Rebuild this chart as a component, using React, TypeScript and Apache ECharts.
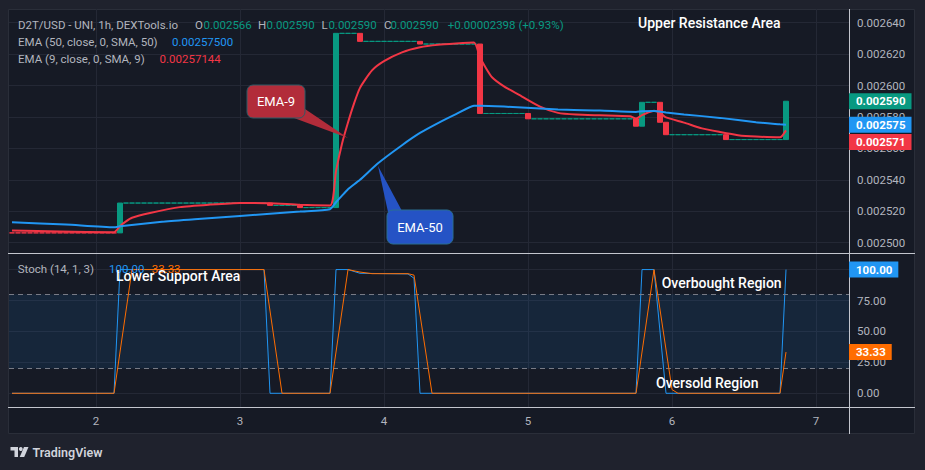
import React, { useEffect, useRef } from "react";
import * as echarts from "echarts";

const FONT = 'Roboto, "Noto Sans", sans-serif';
const TEAL = "#089981";
const RED = "#f23645";
const BLUE = "#2196f3";
const ORANGE = "#ff6d00";
const AXIS_TEXT = "#b2b5be";
const LEGEND_TEXT = "#b2b5be";
const GRID = "#242835";
const PANEL = "#161a25";
const OUTER = "#1f222d";
const SEP = "#c3c6ce";

// ---- time axis (hourly candles) ----
const startDay = 1;
const startHour = 10;
const hourCount = 140;
const categories: string[] = [];
for (let i = 0; i < hourCount; i++) {
  const t = startHour + i;
  categories.push(`${startDay + Math.floor(t / 24)} ${String(t % 24).padStart(2, "0")}:00`);
}
const isDayStart = (v: string) => v.endsWith(" 00:00");
const dayOf = (v: string) => v.split(" ")[0];

// ---- candles ----
const opens = [
  0.0025062, 0.0025062, 0.0025062, 0.0025062, 0.0025062, 0.0025062, 0.0025062, 0.0025062, 0.0025062, 0.0025062,
  0.0025062, 0.0025062, 0.0025062, 0.0025062, 0.0025062, 0.0025062, 0.0025062, 0.0025062, 0.0025062,
  0.0025252, 0.0025252, 0.0025252, 0.0025252, 0.0025252, 0.0025252, 0.0025252, 0.0025252, 0.0025252, 0.0025252,
  0.0025252, 0.0025252, 0.0025252, 0.0025252, 0.0025252, 0.0025252, 0.0025252, 0.0025252, 0.0025252, 0.0025252,
  0.0025252, 0.0025252, 0.0025252, 0.0025252, 0.0025252,
  0.0025237, 0.0025237, 0.0025237, 0.0025237, 0.0025237,
  0.0025223, 0.0025223, 0.0025223, 0.0025223, 0.0025223, 0.0025223,
  0.0026332, 0.0026332, 0.0026332, 0.0026332,
  0.0026281, 0.0026281, 0.0026281, 0.0026281, 0.0026281, 0.0026281, 0.0026281, 0.0026281, 0.0026281, 0.0026281,
  0.0026264, 0.0026264, 0.0026264, 0.0026264, 0.0026264, 0.0026264, 0.0026264, 0.0026264, 0.0026264, 0.0026264,
  0.0025822, 0.0025822, 0.0025822, 0.0025822, 0.0025822, 0.0025822, 0.0025822, 0.0025822,
  0.0025788, 0.0025788, 0.0025788, 0.0025788, 0.0025788, 0.0025788, 0.0025788, 0.0025788, 0.0025788, 0.0025788,
  0.0025788, 0.0025788, 0.0025788, 0.0025788, 0.0025788, 0.0025788, 0.0025788, 0.0025788,
  0.0025741,
  0.0025893, 0.0025893, 0.0025893,
  0.0025766,
  0.0025687, 0.0025687, 0.0025687, 0.0025687, 0.0025687, 0.0025687, 0.0025687, 0.0025687, 0.0025687, 0.0025687,
  0.0025656, 0.0025656, 0.0025656, 0.0025656, 0.0025656, 0.0025656, 0.0025656, 0.0025656, 0.0025656, 0.0025656,
];

const closes = [
  0.0025062, 0.0025062, 0.0025062, 0.0025062, 0.0025062, 0.0025062, 0.0025062, 0.0025062, 0.0025062, 0.0025062,
  0.0025062, 0.0025062, 0.0025062, 0.0025062, 0.0025062, 0.0025062, 0.0025062, 0.0025062,
  0.0025252, 0.0025252, 0.0025252, 0.0025252, 0.0025252, 0.0025252, 0.0025252, 0.0025252, 0.0025252, 0.0025252,
  0.0025252, 0.0025252, 0.0025252, 0.0025252, 0.0025252, 0.0025252, 0.0025252, 0.0025252, 0.0025252, 0.0025252,
  0.0025252, 0.0025252, 0.0025252, 0.0025252, 0.0025252,
  0.0025237, 0.0025237, 0.0025237, 0.0025237, 0.0025237,
  0.0025223, 0.0025223, 0.0025223, 0.0025223, 0.0025223, 0.0025223,
  0.0026332, 0.0026332, 0.0026332, 0.0026332,
  0.0026281, 0.0026281, 0.0026281, 0.0026281, 0.0026281, 0.0026281, 0.0026281, 0.0026281, 0.0026281, 0.0026281,
  0.0026264, 0.0026264, 0.0026264, 0.0026264, 0.0026264, 0.0026264, 0.0026264, 0.0026264, 0.0026264, 0.0026264,
  0.0025822, 0.0025822, 0.0025822, 0.0025822, 0.0025822, 0.0025822, 0.0025822, 0.0025822,
  0.0025788, 0.0025788, 0.0025788, 0.0025788, 0.0025788, 0.0025788, 0.0025788, 0.0025788, 0.0025788, 0.0025788,
  0.0025788, 0.0025788, 0.0025788, 0.0025788, 0.0025788, 0.0025788, 0.0025788, 0.0025788,
  0.0025741,
  0.0025893, 0.0025893, 0.0025893,
  0.0025766,
  0.0025687, 0.0025687, 0.0025687, 0.0025687, 0.0025687, 0.0025687, 0.0025687, 0.0025687, 0.0025687, 0.0025687,
  0.0025656, 0.0025656, 0.0025656, 0.0025656, 0.0025656, 0.0025656, 0.0025656, 0.0025656, 0.0025656, 0.0025656,
  0.00259,
];

// the first flat candles were drawn in the bearish colour
const leadingBearishFlats = 18;

// ---- EMA lines: [candle index, value] ----
const ema9Points: [number, number][] = [
  [0, 0.0025077], [8, 0.0025071], [17, 0.0025066], [18, 0.0025105], [19, 0.0025135], [20, 0.0025158],
  [23, 0.0025188], [28, 0.0025226], [33, 0.0025242], [38, 0.0025253], [43, 0.0025251], [48, 0.0025241],
  [53, 0.0025236], [54, 0.0025455], [55, 0.002563], [56, 0.0025765], [57, 0.0025885], [58, 0.0025985],
  [60, 0.0026096], [62, 0.0026155], [65, 0.0026211], [68, 0.0026243], [71, 0.0026259], [74, 0.0026267],
  [77, 0.0026273], [78, 0.002618], [79, 0.002611], [80, 0.0026053], [82, 0.0025995], [85, 0.002593],
  [88, 0.0025866], [91, 0.0025826], [94, 0.0025815], [98, 0.002581], [103, 0.0025804], [104, 0.002579],
  [105, 0.0025811], [106, 0.0025828], [107, 0.002584], [108, 0.0025825], [109, 0.0025797], [112, 0.0025764],
  [115, 0.0025727], [118, 0.0025704], [121, 0.0025684], [124, 0.0025675], [128, 0.002567], [129, 0.00257144],
];

const ema50Points: [number, number][] = [
  [0, 0.0025129], [9, 0.0025115], [17, 0.0025098], [18, 0.0025104], [25, 0.0025133], [31, 0.002515],
  [38, 0.002517], [48, 0.0025198], [53, 0.0025213], [54, 0.0025257], [55, 0.0025299], [56, 0.002534],
  [58, 0.00254], [61, 0.0025505], [65, 0.002562], [68, 0.0025698], [71, 0.0025761], [74, 0.0025818],
  [77, 0.0025871], [78, 0.0025872], [82, 0.0025866], [91, 0.0025847], [98, 0.0025841], [104, 0.0025832],
  [105, 0.0025836], [107, 0.0025838], [109, 0.0025828], [112, 0.0025816], [118, 0.0025794], [124, 0.0025766],
  [128, 0.0025753], [129, 0.002575],
];

// ---- Stochastic (14, 1, 3) ----
const stochK: [number, number][] = [
  [0, 0], [17, 0], [18, 100], [42, 100], [43, 0], [53, 0], [54, 100], [56, 100], [58, 97], [66, 96.5],
  [67, 93], [68, 0], [104, 0], [105, 100], [107, 100], [109, 0], [128, 0], [129, 100],
];
const stochD: [number, number][] = [
  [0, 0], [17, 0], [20, 100], [42, 100], [45, 0], [53, 0], [56, 100], [58, 98], [60, 96.7], [66, 96.7],
  [67, 95.5], [70, 0], [104, 0], [107, 100], [110, 3], [111, 0], [128, 0], [129, 33.33],
];

// ---- axes ----
const priceTicks = [0.0025, 0.00252, 0.00254, 0.00256, 0.00258, 0.0026, 0.00262, 0.00264];
const stochTicks = [0, 25, 50, 75, 100];
const priceMin = 0.0024934;
const priceMax = 0.0026487;
const stochMin = -11.08;
const stochMax = 113.4;
const overbought = 80;
const oversold = 20;

// ---- legend texts ----
const symbolTitle = "D2T/USD - UNI, 1h, DEXTools.io";
const ohlcText = ["0.002566", "0.002590", "0.002590", "0.002590"];
const changeText = "+0.00002398 (+0.93%)";
const ema50Title = "EMA (50, close, 0, SMA, 50)";
const ema50Value = "0.00257500";
const ema9Title = "EMA (9, close, 0, SMA, 9)";
const ema9Value = "0.00257144";
const stochTitle = "Stoch (14, 1, 3)";
const stochKValue = "100.00";
const stochDValue = "33.33";

const txt = (
  text: string,
  x: number,
  y: number,
  fill: string,
  size = 11.5,
  weight: any = "normal",
  align = "left",
  z = 60
) => ({
  type: "text",
  z,
  x,
  y,
  silent: true,
  style: { text, fill, fontSize: size, fontFamily: FONT, fontWeight: weight, align, verticalAlign: "middle" },
});

function buildOption() {
  const candleData = opens.map((o, i) => {
    const c = closes[i];
    const value = [o, c, Math.min(o, c), Math.max(o, c)];
    if (i < leadingBearishFlats) {
      return {
        value,
        itemStyle: { color: RED, color0: RED, borderColor: RED, borderColor0: RED, borderColorDoji: RED },
      };
    }
    return value;
  });

  const xAxisFor = (gridIndex: number, showLabels: boolean) => ({
    type: "category",
    gridIndex,
    data: categories,
    boundaryGap: true,
    axisLine: { show: false },
    axisTick: { show: false, alignWithLabel: true },
    axisLabel: {
      show: showLabels,
      interval: (_i: number, v: string) => isDayStart(v),
      formatter: (v: string) => dayOf(v),
      color: AXIS_TEXT,
      fontSize: 11.5,
      fontFamily: FONT,
      margin: 8,
    },
    splitLine: {
      show: true,
      interval: (_i: number, v: string) => isDayStart(v),
      alignWithLabel: true,
      lineStyle: { color: GRID, width: 1 },
    },
  });

  return {
    animation: false,
    backgroundColor: OUTER,
    grid: [
      { left: 9, right: 76, top: 9, height: 244, show: false, outerBoundsMode: "none" },
      { left: 9, right: 76, top: 253, height: 154, show: false, outerBoundsMode: "none" },
    ],
    xAxis: [xAxisFor(0, false), xAxisFor(1, true)],
    yAxis: [
      {
        type: "value",
        gridIndex: 0,
        position: "right",
        min: priceMin,
        max: priceMax,
        scale: true,
        axisLine: { show: false },
        axisTick: { show: false, customValues: priceTicks },
        axisLabel: {
          customValues: priceTicks,
          formatter: (v: number) => v.toFixed(6),
          color: AXIS_TEXT,
          fontSize: 11.5,
          fontFamily: FONT,
          margin: 8,
          showMinLabel: true,
          showMaxLabel: true,
        },
        splitLine: { show: true, lineStyle: { color: GRID, width: 1 } },
      },
      {
        type: "value",
        gridIndex: 1,
        position: "right",
        min: stochMin,
        max: stochMax,
        axisLine: { show: false },
        axisTick: { show: false, customValues: stochTicks },
        axisLabel: {
          customValues: stochTicks,
          formatter: (v: number) => v.toFixed(2),
          color: AXIS_TEXT,
          fontSize: 11.5,
          fontFamily: FONT,
          margin: 8,
        },
        splitLine: { show: true, lineStyle: { color: GRID, width: 1 } },
      },
    ],
    series: [
      {
        type: "candlestick",
        xAxisIndex: 0,
        yAxisIndex: 0,
        barWidth: 5,
        data: candleData,
        itemStyle: {
          color: TEAL,
          color0: RED,
          borderColor: TEAL,
          borderColor0: RED,
          borderWidth: 1,
        },
        markLine: {
          silent: true,
          symbol: "none",
          label: { show: false },
          lineStyle: { color: TEAL, type: [1, 2], width: 1 },
          data: [{ yAxis: closes[closes.length - 1] }],
        },
        z: 3,
      },
      {
        type: "line",
        name: "EMA 9",
        xAxisIndex: 0,
        yAxisIndex: 0,
        data: ema9Points,
        showSymbol: false,
        symbol: "none",
        smooth: 0.2,
        lineStyle: { color: RED, width: 2 },
        z: 4,
      },
      {
        type: "line",
        name: "EMA 50",
        xAxisIndex: 0,
        yAxisIndex: 0,
        data: ema50Points,
        showSymbol: false,
        symbol: "none",
        smooth: 0.2,
        lineStyle: { color: BLUE, width: 2 },
        z: 4,
      },
      {
        type: "line",
        name: "%K",
        xAxisIndex: 1,
        yAxisIndex: 1,
        data: stochK,
        showSymbol: false,
        symbol: "none",
        lineStyle: { color: BLUE, width: 1 },
        markArea: {
          silent: true,
          itemStyle: { color: "rgba(33,150,243,0.1)" },
          data: [[{ yAxis: oversold }, { yAxis: overbought }]],
        },
        markLine: {
          silent: true,
          symbol: "none",
          label: { show: false },
          lineStyle: { color: "#787b86", type: [5, 4], width: 1 },
          data: [{ yAxis: overbought }, { yAxis: oversold }],
        },
        z: 4,
      },
      {
        type: "line",
        name: "%D",
        xAxisIndex: 1,
        yAxisIndex: 1,
        data: stochD,
        showSymbol: false,
        symbol: "none",
        lineStyle: { color: ORANGE, width: 1 },
        z: 5,
      },
    ],
  };
}

function staticGraphics() {
  const logoFill = "#d1d4dc";
  return [
    {
      type: "rect",
      z: -100,
      silent: true,
      shape: { x: 8.5, y: 9.5, width: 906, height: 424 },
      style: { fill: PANEL, stroke: "#2a2e39", lineWidth: 1 },
    },
    { type: "line", z: 50, silent: true, shape: { x1: 8, y1: 253.5, x2: 915, y2: 253.5 }, style: { stroke: SEP, lineWidth: 1 } },
    { type: "line", z: 50, silent: true, shape: { x1: 849.5, y1: 9, x2: 849.5, y2: 434 }, style: { stroke: SEP, lineWidth: 1 } },
    { type: "line", z: 50, silent: true, shape: { x1: 8, y1: 407.5, x2: 915, y2: 407.5 }, style: { stroke: SEP, lineWidth: 1 } },

    // legend
    txt(symbolTitle, 18, 25, LEGEND_TEXT),
    txt("O", 195, 25, LEGEND_TEXT),
    txt(ohlcText[0], 203.5, 25, TEAL),
    txt("H", 258, 25, LEGEND_TEXT),
    txt(ohlcText[1], 266.5, 25, TEAL),
    txt("L", 321.5, 25, LEGEND_TEXT),
    txt(ohlcText[2], 328.4, 25, TEAL),
    txt("C", 384, 25, LEGEND_TEXT),
    txt(ohlcText[3], 390.4, 25, TEAL),
    txt(changeText, 447.8, 25, TEAL),
    txt(ema50Title, 18, 42, LEGEND_TEXT),
    txt(ema50Value, 172, 42, BLUE),
    txt(ema9Title, 18, 59, LEGEND_TEXT),
    txt(ema9Value, 159.6, 59, RED),
    txt(stochTitle, 17.7, 269, LEGEND_TEXT),
    txt(stochKValue, 109, 269, BLUE),
    txt(stochDValue, 151.7, 269, ORANGE),

    // annotations
    txt("Upper Resistance Area", 638, 23, "#ffffff", 14, 500),
    txt("Lower Support Area", 116, 275.5, "#ffffff", 14, 500),
    txt("Overbought Region", 661.7, 283.3, "#ffffff", 14, 500),
    txt("Oversold Region", 656, 383.3, "#ffffff", 14, 500),

    // EMA-9 callout
    {
      type: "polygon",
      z: 70,
      silent: true,
      shape: { points: [[294, 118], [305, 109], [348, 138]] },
      style: { fill: "#b22c3a" },
    },
    {
      type: "rect",
      z: 71,
      silent: true,
      shape: { x: 247, y: 85, width: 58, height: 33, r: 6 },
      style: { fill: "#b22c3a", stroke: "#2f5b66", lineWidth: 1 },
    },
    txt("EMA-9", 276, 101.5, "#ffffff", 13, "normal", "center", 72),

    // EMA-50 callout
    {
      type: "polygon",
      z: 70,
      silent: true,
      shape: { points: [[378, 166], [388, 212], [402, 211]] },
      style: { fill: "#2553c5" },
    },
    {
      type: "rect",
      z: 71,
      silent: true,
      shape: { x: 387, y: 210, width: 66, height: 34, r: 6 },
      style: { fill: "#2553c5", stroke: "#2a6f92", lineWidth: 1 },
    },
    txt("EMA-50", 420, 227, "#ffffff", 13, "normal", "center", 72),

    // TradingView logo
    { type: "rect", z: 60, silent: true, shape: { x: 10.5, y: 447, width: 7.5, height: 3.5 }, style: { fill: logoFill } },
    { type: "rect", z: 60, silent: true, shape: { x: 14.5, y: 447, width: 3.5, height: 10 }, style: { fill: logoFill } },
    { type: "circle", z: 60, silent: true, shape: { cx: 20.8, cy: 449, r: 1.9 }, style: { fill: logoFill } },
    {
      type: "polygon",
      z: 60,
      silent: true,
      shape: { points: [[24, 447], [28.5, 447], [24.2, 457], [19.7, 457]] },
      style: { fill: logoFill },
    },
    txt("TradingView", 32.5, 452.3, logoFill, 12.5, 600),
  ];
}

function tag(text: string, y: number, bg: string) {
  return {
    type: "text",
    z: 80,
    x: 849,
    y,
    silent: true,
    style: {
      text,
      fill: "#ffffff",
      fontSize: 11.5,
      fontFamily: FONT,
      fontWeight: "bold",
      lineHeight: 14,
      align: "left",
      verticalAlign: "middle",
      backgroundColor: bg,
      padding: [1, 6, 1, 7],
    },
  };
}

export default function App() {
  const ref = useRef<HTMLDivElement>(null);
  useEffect(() => {
    const el = ref.current;
    if (!el) return;
    const chart = echarts.init(el, null, { renderer: "svg" });
    chart.setOption(buildOption() as any);

    const lastClose = closes[closes.length - 1];
    const lastEma50 = ema50Points[ema50Points.length - 1][1];
    const lastEma9 = ema9Points[ema9Points.length - 1][1];
    const lastK = stochK[stochK.length - 1][1];
    const lastD = stochD[stochD.length - 1][1];

    const yClose = chart.convertToPixel({ yAxisIndex: 0 } as any, lastClose) as number;
    const yE50 = chart.convertToPixel({ yAxisIndex: 0 } as any, lastEma50) as number;
    const yE9raw = chart.convertToPixel({ yAxisIndex: 0 } as any, lastEma9) as number;
    const yE9 = Math.max(yE9raw, yE50 + 17.3);
    const yK = chart.convertToPixel({ yAxisIndex: 1 } as any, lastK) as number;
    const yD = chart.convertToPixel({ yAxisIndex: 1 } as any, lastD) as number;

    const tags = [
      tag(lastClose.toFixed(6), yClose, TEAL),
      tag(lastEma50.toFixed(6), yE50, BLUE),
      tag(lastEma9.toFixed(6), yE9, RED),
      tag(lastK.toFixed(2), yK, BLUE),
      tag(lastD.toFixed(2), yD, ORANGE),
    ];

    chart.setOption({ graphic: [...staticGraphics(), ...tags] } as any);
    return () => chart.dispose();
  }, []);

  return (
    <div
      ref={ref}
      style={{ position: "fixed", left: 0, top: 0, width: 925, height: 470 }}
    />
  );
}
